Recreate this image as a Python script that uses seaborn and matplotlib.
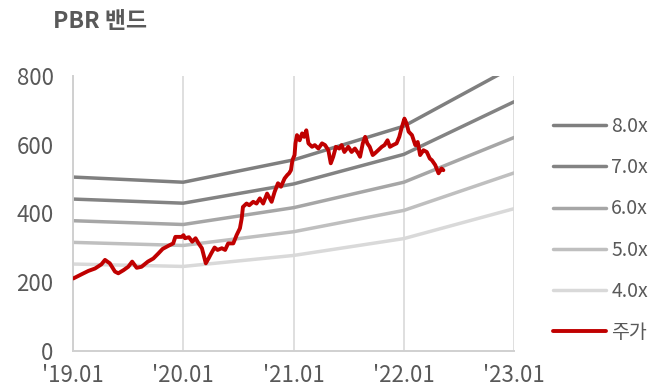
import matplotlib
matplotlib.use("Agg")
import matplotlib.pyplot as plt
import pandas as pd
import seaborn as sns

sns.set_theme(style="white")
plt.rcParams["font.family"] = ["Noto Sans CJK KR", "DejaVu Sans"]

# PBR band reference dates and band values (price implied by each multiple)
band_dates = ["2019-01-01", "2020-01-01", "2021-01-01", "2022-01-01", "2023-01-01"]
band_labels = ["8.0x", "7.0x", "6.0x", "5.0x", "4.0x"]
band_8x = [506, 491, 556, 654, 828]
band_7x = [442, 430, 486, 572, 725]
band_6x = [379, 368, 417, 491, 621]
band_5x = [316, 307, 347, 409, 518]
band_4x = [253, 246, 278, 327, 414]
band_colors = ["#7f7f7f", "#838383", "#a6a6a6", "#bfbfbf", "#d9d9d9"]

# share price (주가)
price_dates = [
    "2019-01-02", "2019-01-29", "2019-02-21", "2019-03-15", "2019-04-05", "2019-04-17",
    "2019-05-03", "2019-05-20", "2019-05-31", "2019-06-17", "2019-07-03", "2019-07-16",
    "2019-07-31", "2019-08-16", "2019-09-06", "2019-09-24", "2019-10-11", "2019-10-25",
    "2019-11-13", "2019-11-29", "2019-12-06", "2019-12-27", "2020-01-02", "2020-01-07",
    "2020-01-20", "2020-01-31", "2020-02-11", "2020-02-21", "2020-03-03", "2020-03-16",
    "2020-03-25", "2020-04-03", "2020-04-14", "2020-04-24", "2020-05-08", "2020-05-19",
    "2020-05-29", "2020-06-15", "2020-06-26", "2020-07-07", "2020-07-13", "2020-07-17",
    "2020-07-29", "2020-08-07", "2020-08-20", "2020-08-31", "2020-09-11", "2020-09-22",
    "2020-10-05", "2020-10-20", "2020-10-30", "2020-11-10", "2020-11-16", "2020-11-20",
    "2020-12-02", "2020-12-11", "2020-12-17", "2020-12-23", "2020-12-28", "2021-01-04",
    "2021-01-07", "2021-01-12", "2021-01-21", "2021-01-29", "2021-02-05", "2021-02-12",
    "2021-02-19", "2021-03-03", "2021-03-12", "2021-03-24", "2021-04-05", "2021-04-15",
    "2021-04-26", "2021-05-04", "2021-05-12", "2021-05-21", "2021-06-01", "2021-06-09",
    "2021-06-18", "2021-07-01", "2021-07-12", "2021-07-23", "2021-08-03", "2021-08-09",
    "2021-08-18", "2021-08-26", "2021-09-02", "2021-09-10", "2021-09-20", "2021-09-27",
    "2021-10-08", "2021-10-20", "2021-10-29", "2021-11-08", "2021-11-16", "2021-11-26",
    "2021-12-08", "2021-12-17", "2021-12-24", "2022-01-03", "2022-01-10", "2022-01-17",
    "2022-01-28", "2022-02-08", "2022-02-16", "2022-02-24", "2022-03-07", "2022-03-18",
    "2022-03-28", "2022-04-04", "2022-04-15", "2022-04-26", "2022-05-06", "2022-05-12",
]
price_values = [
    211, 223, 233, 240, 252, 265,
    255, 231, 226, 235, 245, 260,
    242, 245, 260, 269, 284, 297,
    306, 313, 332, 332, 337, 328,
    331, 318, 328, 313, 299, 255,
    269, 284, 301, 294, 299, 294,
    313, 313, 337, 357, 386, 419,
    429, 424, 434, 429, 444, 429,
    458, 434, 463, 488, 483, 478,
    502, 512, 517, 526, 555, 570,
    604, 628, 613, 633, 623, 642,
    604, 594, 599, 589, 604, 599,
    584, 546, 565, 594, 589, 599,
    579, 594, 579, 589, 575, 565,
    604, 623, 604, 594, 570, 575,
    584, 594, 599, 613, 594, 599,
    604, 623, 647, 676, 662, 638,
    628, 599, 608, 570, 584, 579,
    560, 555, 541, 517, 531, 526,
]
price_label = "주가"
price_color = "#c00000"

y_ticks = [0, 200, 400, 600, 800]
x_ticks = ["2019-01-01", "2020-01-01", "2021-01-01", "2022-01-01", "2023-01-01"]
x_tick_labels = ["'19.01", "'20.01", "'21.01", "'22.01", "'23.01"]

text_color = "#595959"

bands = pd.DataFrame({
    "date": pd.to_datetime(band_dates * 5),
    "value": band_8x + band_7x + band_6x + band_5x + band_4x,
    "band": sum([[lab] * len(band_dates) for lab in band_labels], []),
})
price = pd.DataFrame({"date": pd.to_datetime(price_dates), "value": price_values})

fig = plt.figure(figsize=(6.69, 3.87), dpi=100)
ax = fig.add_axes([73 / 669, 1 - 351 / 387, (514 - 73) / 669, (351 - 76) / 387])

sns.lineplot(data=bands, x="date", y="value", hue="band", hue_order=band_labels,
             palette=band_colors, linewidth=2.5, ax=ax, legend=False)
sns.lineplot(data=price, x="date", y="value", color=price_color, linewidth=2.8,
             ax=ax, legend=False, zorder=5)

ax.set_xlim(pd.Timestamp(x_ticks[0]), pd.Timestamp(x_ticks[-1]))
ax.set_ylim(y_ticks[0], y_ticks[-1])
ax.set_yticks(y_ticks)
ax.set_xticks(pd.to_datetime(x_ticks))
ax.set_xticklabels(x_tick_labels)
ax.set_xlabel("")
ax.set_ylabel("")

ax.grid(axis="x", color="#d9d9d9", linewidth=1.2)
ax.grid(axis="y", visible=False)
for side in ["top", "right"]:
    ax.spines[side].set_visible(False)
for side in ["left", "bottom"]:
    ax.spines[side].set_color("#d0d0d0")
    ax.spines[side].set_linewidth(1.4)

ax.tick_params(axis="y", length=0, pad=14, labelsize=16, labelcolor=text_color)
ax.tick_params(axis="x", length=0, pad=9, labelsize=16, labelcolor=text_color)

# legend
handles = [plt.Line2D([], [], color=c, linewidth=2.5) for c in band_colors]
handles.append(plt.Line2D([], [], color=price_color, linewidth=2.8))
leg = ax.legend(handles, band_labels + [price_label], loc="upper left",
                bbox_to_anchor=(553 / 669, 1 - 116 / 387), bbox_transform=fig.transFigure,
                frameon=False, fontsize=14, handlelength=2.73, handletextpad=0.26,
                labelspacing=1.04, borderpad=0, borderaxespad=0)
for t in leg.get_texts():
    t.set_color(text_color)

fig.text(53 / 669, 1 - 22 / 387, "PBR 밴드", ha="left", va="center",
         fontsize=16.5, fontweight="bold", color=text_color)

fig.savefig("out.png", dpi=100)
